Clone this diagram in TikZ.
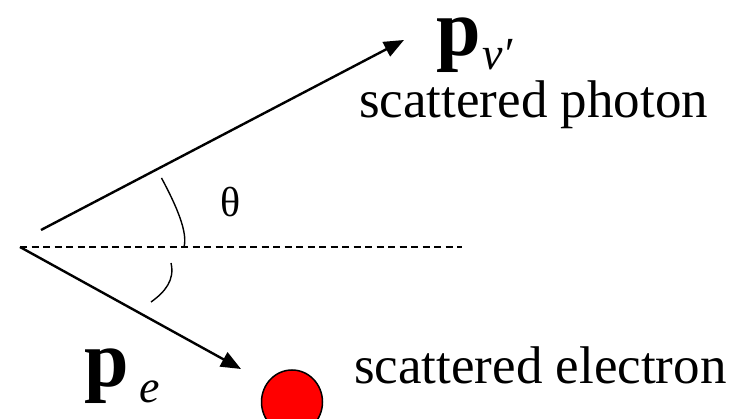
\documentclass[tikz,border=0pt]{standalone}
\usepackage{fontspec}
\setmainfont{Liberation Serif}
\usetikzlibrary{arrows.meta,shapes.geometric}
\begin{document}
\begin{tikzpicture}[x=1pt,y=-1pt,
  vec/.style={line width=2.4pt,-{Triangle[length=20pt,width=16pt]}},
  anglearc/.style={line width=1.4pt},
  refline/.style={line width=1.5pt,dash pattern=on 7pt off 4.5pt},
  lbl/.style={inner sep=0pt,anchor=base west,font=\fontsize{53}{60}\selectfont},
  sym/.style={inner sep=0pt,anchor=base west,text height=36pt,text depth=14pt,font=\fontsize{80}{90}\selectfont\bfseries},
  sub/.style={inner sep=0pt,anchor=base west,text height=22pt,text depth=0pt,font=\fontsize{46}{50}\selectfont\itshape}]
\useasboundingbox (0,0) rectangle (742,419);
\coordinate (O) at (20,247);
\coordinate (S) at (41,230);
\coordinate (P) at (404,40);
\coordinate (E) at (241,369);
\coordinate (D) at (462,247);
\draw[refline] (O) -- (D);
\draw[vec] (S) -- (P);
\draw[vec] (O) -- (E);
\coordinate (a1) at (161.5,178);
\coordinate (a2) at (184,247);
\coordinate (b1) at (171,263);
\coordinate (b2) at (151,302);
\draw[anglearc] (a1) .. controls (176,205) and (188,232) .. (a2);
\draw[anglearc] (b1) .. controls (175,280) and (165,292) .. (b2);
\node[ellipse,draw,fill=red,line width=1.5pt,inner sep=0pt,minimum width=61pt,minimum height=64pt] (el) at (292,402) {};
\node[inner sep=0pt,font=\fontsize{42}{44}\selectfont] (th) at (231,202) {θ};
\node[sym] (pph) at (436,56) {p};
\node[sub] (nu) at (482,70) {ν′};
\node[lbl] (ph) at (359,118) {scattered photon};
\node[sym] (pe) at (84,387) {p};
\node[sub] (e) at (139,403) {e};
\node[lbl] (ee) at (354,384) {scattered electron};
\end{tikzpicture}
\end{document}
